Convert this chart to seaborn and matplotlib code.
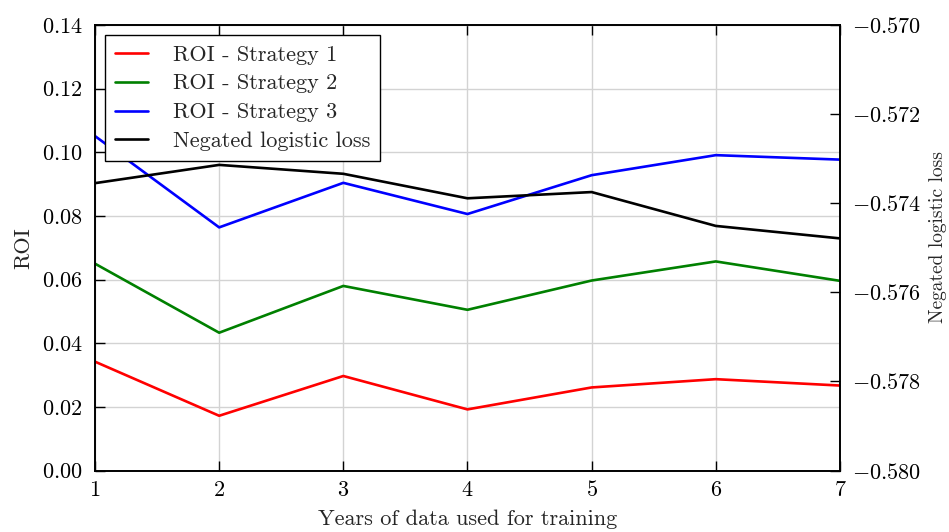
import matplotlib
matplotlib.use("Agg")
import matplotlib.pyplot as plt
import seaborn as sns
import pandas as pd

# Training window lengths (years)
years = [1, 2, 3, 4, 5, 6, 7]

# ROI for each betting strategy
roi_strategy_1 = [0.0342, 0.0172, 0.0297, 0.0192, 0.0261, 0.0287, 0.0267]
roi_strategy_2 = [0.0650, 0.0433, 0.0580, 0.0505, 0.0597, 0.0657, 0.0596]
roi_strategy_3 = [0.1051, 0.0764, 0.0904, 0.0806, 0.0928, 0.0991, 0.0977]

# Negated logistic loss of the model
neg_log_loss = [-0.57355, -0.57314, -0.57334, -0.57389, -0.57375, -0.57451, -0.57479]

roi_ticks = [0.00, 0.02, 0.04, 0.06, 0.08, 0.10, 0.12, 0.14]
loss_ticks = [-0.580, -0.578, -0.576, -0.574, -0.572, -0.570]

sns.set_style("white")
plt.rcParams["font.family"] = ["cmr10", "DejaVu Serif"]
plt.rcParams["mathtext.fontset"] = "cm"
plt.rcParams["axes.formatter.use_mathtext"] = True

FS = 16

roi_df = pd.DataFrame({
    "years": years * 3,
    "roi": roi_strategy_1 + roi_strategy_2 + roi_strategy_3,
    "series": (["ROI - Strategy 1"] * 7 + ["ROI - Strategy 2"] * 7
               + ["ROI - Strategy 3"] * 7),
})
loss_df = pd.DataFrame({"years": years, "loss": neg_log_loss})

fig, ax = plt.subplots(figsize=(9.49, 5.32), dpi=100)
fig.subplots_adjust(left=0.1001, right=0.8851, top=0.953, bottom=0.1156)

palette = {"ROI - Strategy 1": "#ff0000",
           "ROI - Strategy 2": "#008000",
           "ROI - Strategy 3": "#0000ff"}
sns.lineplot(data=roi_df, x="years", y="roi", hue="series", palette=palette,
             linewidth=1.9, ax=ax, legend=False)

ax2 = ax.twinx()
sns.lineplot(data=loss_df, x="years", y="loss", color="black",
             linewidth=1.9, ax=ax2, legend=False)

ax.set_xlim(1, 7)
ax.set_ylim(0, 0.14)
ax2.set_ylim(-0.580, -0.570)

ax.set_xticks(years)
ax.set_xticklabels([f"${v}$" for v in years])
ax.set_yticks(roi_ticks)
ax.set_yticklabels([f"${v:.2f}$" for v in roi_ticks])
ax2.set_yticks(loss_ticks)
ax2.set_yticklabels([f"${v:.3f}$" for v in loss_ticks])

ax.grid(True, color="#d3d3d3", linewidth=1.0)
ax.set_axisbelow(True)

for a in (ax, ax2):
    a.tick_params(direction="in", length=7, width=1.0, labelsize=FS,
                  colors="black", pad=9)
    for s in a.spines.values():
        s.set_color("black")
        s.set_linewidth(1.2)
ax.tick_params(axis="x", top=True, bottom=True, pad=7)
ax.tick_params(axis="y", left=True, right=False)
ax2.tick_params(axis="y", right=True, left=False)

ax.set_xlabel("Years of data used for training", fontsize=FS, labelpad=7)
ax.set_ylabel("ROI", fontsize=FS, labelpad=6)
ax2.set_ylabel("Negated logistic loss", fontsize=14)
ax2.yaxis.set_label_coords(1.119, 0.524)

handles = ax.get_lines()[:3] + ax2.get_lines()[:1]
labels = ["ROI - Strategy 1", "ROI - Strategy 2", "ROI - Strategy 3",
          "Negated logistic loss"]
leg = ax2.legend(handles, labels, loc="upper left", fontsize=FS,
                 frameon=True, fancybox=False, framealpha=1,
                 edgecolor="black", borderpad=0.45, labelspacing=0.42,
                 handlelength=1.5, handletextpad=1.1,
                 bbox_to_anchor=(0.0, 1.0), borderaxespad=0.45)
leg.get_frame().set_linewidth(1.0)

fig.savefig("out.png", dpi=100)
